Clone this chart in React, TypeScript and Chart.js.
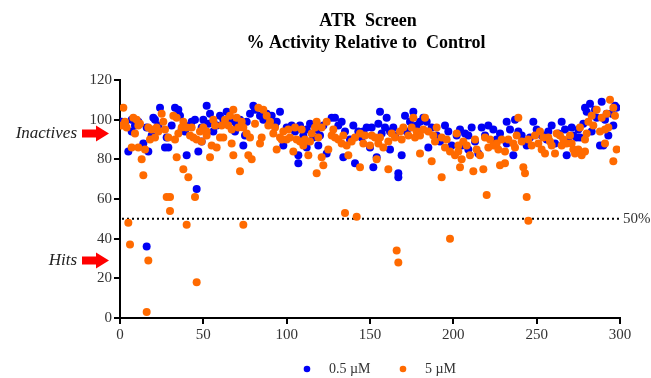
import { useEffect, useRef } from "react";
import { Chart, registerables } from "chart.js";

Chart.register(...registerables);

const titleLines = ["ATR  Screen", "% Activity Relative to  Control"];
const seriesLabels = ["0.5 µM", "5 µM"];
const xTicks = [0, 50, 100, 150, 200, 250, 300];
const yTicks = [0, 20, 40, 60, 80, 100, 120];
const thresholdValue = 50;
const thresholdLabel = "50%";
const markerTexts = ["Inactives", "Hits"];
const markerValues = [93, 29];

const blueX = [
  1, 3, 5, 7, 7, 9, 14, 16, 16, 17, 20, 21, 23, 24, 27, 28, 29, 33, 35, 36, 37, 39, 40, 42, 43, 46, 47, 49,
  49, 50, 52, 54, 56, 56, 60, 64, 66, 69, 72, 74, 75, 76, 80, 81, 84, 88, 91, 94, 96, 98, 100,
  103, 107, 107, 108, 112, 112, 114, 116, 119, 120, 124, 127, 129, 131, 134, 135, 140, 141, 143, 145, 148, 150, 151, 152,
  154, 155, 156, 159, 160, 162, 162, 165, 167, 167, 169, 171, 174, 176, 180, 182, 185, 187, 192, 197, 199, 202,
  204, 205, 209, 209, 213, 215, 217, 221, 224, 226, 232, 232, 234, 236, 237, 239, 241, 244, 248, 250, 253,
  254, 257, 259, 261, 265, 267, 268, 269, 271, 274, 275, 276, 279, 280, 282, 283, 285, 288, 289, 290, 292, 293, 295, 296, 297, 298,
  11, 19, 31, 45, 53, 58, 62, 70, 78, 86, 93, 105, 110, 118, 122, 133, 138, 146, 157, 164, 172, 178, 184, 190, 195,
  207, 211, 219, 228, 246, 256, 263, 272, 278, 286, 291,
];
const blueY = [
  99, 98, 84, 100, 94, 97, 88, 96, 36, 84, 101, 100, 97, 106, 86, 91, 86, 106, 105, 102, 95, 94, 82, 97, 99, 65, 84, 96,
  89, 100, 107, 103, 99, 94, 102, 104, 99, 94, 100, 87, 92, 99, 107, 105, 102, 103, 102, 99, 104, 87, 96,
  97, 82, 78, 97, 95, 86, 98, 91, 87, 92, 83, 101, 101, 97, 81, 94, 97, 78, 94, 91, 96, 86, 96, 76,
  81, 98, 104, 96, 101, 94, 85, 92, 73, 71, 82, 102, 99, 104, 99, 101, 86, 96, 89, 94, 87, 92,
  95, 87, 92, 85, 89, 83, 96, 97, 95, 90, 99, 88, 95, 82, 100, 94, 92, 87, 99, 95, 92,
  92, 94, 97, 88, 99, 95, 82, 89, 96, 91, 95, 91, 106, 104, 108, 94, 105, 87, 109, 87, 103, 92, 103, 97, 107, 106,
  99, 92, 97, 100, 98, 97, 100, 98, 103, 100, 97, 94, 92, 95, 97, 99, 90, 94, 93, 96, 94, 97, 99, 92, 97,
  93, 96, 92, 93, 91, 90, 93, 92, 98, 101, 100,
];

const orangeX = [
  1, 2, 4, 8, 10, 11, 7, 11, 15, 13, 14, 17, 19, 22, 21, 25, 26, 23, 29, 32, 34, 38, 37, 40, 42, 44, 33, 34, 38, 41, 46, 49,
  5, 6, 16, 17, 28, 30, 30, 40, 45, 46, 74, 135, 142, 166, 167, 198, 220, 244, 245,
  50, 52, 56, 63, 65, 68, 70, 71, 67, 74, 78, 83, 86, 88, 90, 93, 96, 100, 52, 55, 58, 60, 62, 67, 54, 68, 77, 79, 72, 85, 84, 94, 97,
  101, 105, 102, 104, 109, 110, 113, 115, 117, 118, 121, 124, 127, 129, 131, 133, 136, 139, 144, 147, 150, 121, 122, 118, 125, 137, 144, 111, 108,
  151, 153, 156, 154, 158, 161, 165, 168, 170, 173, 175, 176, 178, 180, 183, 185, 188, 190, 193, 195, 198, 201, 180, 187, 161, 193, 203,
  202, 203, 205, 204, 208, 210, 214, 216, 218, 212, 219, 222, 224, 226, 229, 231, 228, 231, 236, 238, 239, 241, 242, 243, 247, 249, 252, 254,
  253, 255, 257, 259, 261, 264, 265, 268, 270, 272, 273, 277, 279, 281, 283, 286, 289, 291, 293, 294, 296, 297, 288, 291, 298, 296, 262, 275, 279, 276,
  3, 9, 12, 18, 27, 35, 43, 48, 57, 61, 66, 73, 76, 81, 89, 92, 98, 106, 114, 119, 128, 134, 141, 146, 155,
  163, 169, 177, 182, 189, 196, 206, 213, 221, 227, 233, 237, 245, 251, 258, 266, 271, 280, 284, 292,
];
const orangeY = [
  97, 106, 96, 101, 100, 97, 86, 86, 85, 80, 72, 96, 95, 96, 91, 103, 99, 94, 91, 102, 101, 99, 96, 96, 92, 91, 90, 81, 75, 71, 90, 89,
  48, 37, 3, 29, 61, 61, 54, 47, 61, 18, 47, 53, 51, 34, 28, 40, 62, 61, 49,
  96, 94, 100, 100, 97, 105, 101, 96, 95, 96, 91, 106, 105, 102, 99, 96, 91, 90, 92, 87, 86, 91, 91, 88, 81, 82, 82, 80, 74, 91, 88, 85, 90,
  95, 96, 91, 84, 95, 87, 82, 93, 96, 99, 96, 99, 92, 91, 90, 88, 87, 89, 93, 92, 87, 81, 77, 73, 85, 82, 76, 90, 89,
  92, 91, 91, 80, 86, 89, 91, 94, 96, 92, 96, 101, 94, 92, 101, 94, 92, 96, 91, 86, 84, 82, 83, 79, 75, 71, 87,
  93, 84, 80, 76, 87, 82, 85, 82, 75, 74, 91, 90, 87, 88, 90, 84, 77, 78, 88, 92, 101, 89, 76, 73, 87, 92, 94, 91,
  85, 83, 91, 87, 83, 92, 87, 88, 92, 85, 83, 82, 90, 99, 102, 105, 101, 95, 96, 110, 106, 102, 94, 88, 85, 79, 93, 85, 84, 96,
  99, 93, 98, 90, 95, 93, 96, 94, 97, 97, 102, 99, 93, 98, 97, 93, 94, 90, 89, 91, 95, 92, 91, 88, 88,
  93, 90, 91, 95, 89, 90, 89, 90, 86, 85, 90, 86, 90, 88, 89, 90, 88, 93, 97, 103,
];

const BLUE = "#0000F5";
const ORANGE = "#FF6A00";
const SERIF = '"Liberation Serif", "Times New Roman", serif';

export default function App() {
  const ref = useRef<HTMLCanvasElement | null>(null);

  useEffect(() => {
    document.body.style.margin = "0";
    const canvas = ref.current;
    if (!canvas) return;

    const decor = {
      id: "decor",
      beforeDatasetsDraw(chart: any) {
        const { ctx, chartArea, scales } = chart;
        const y = scales.y.getPixelForValue(thresholdValue);
        ctx.save();
        ctx.strokeStyle = "#000";
        ctx.lineWidth = 2;
        ctx.setLineDash([2, 3]);
        ctx.beginPath();
        ctx.moveTo(chartArea.left + 2, y);
        ctx.lineTo(chartArea.right, y);
        ctx.stroke();
        ctx.restore();
      },
      afterDraw(chart: any) {
        const { ctx, chartArea, scales } = chart;
        ctx.save();
        ctx.fillStyle = "#000";
        ctx.textAlign = "center";
        ctx.textBaseline = "alphabetic";
        ctx.font = `bold 18px ${SERIF}`;
        ctx.fillText(titleLines[0], 368, 26);
        ctx.fillText(titleLines[1], 366, 48);
        const ty = scales.y.getPixelForValue(thresholdValue);
        ctx.font = `15px ${SERIF}`;
        ctx.fillStyle = "#333";
        ctx.textAlign = "left";
        ctx.textBaseline = "middle";
        ctx.fillText(thresholdLabel, chartArea.right + 3, ty);
        markerValues.forEach((v, i) => {
          const my = scales.y.getPixelForValue(v);
          ctx.font = `italic 17px ${SERIF}`;
          ctx.fillStyle = "#222";
          ctx.textAlign = "right";
          ctx.textBaseline = "middle";
          ctx.fillText(markerTexts[i], 77, my);
          ctx.fillStyle = "#FF0000";
          ctx.beginPath();
          ctx.moveTo(82, my - 4);
          ctx.lineTo(96, my - 4);
          ctx.lineTo(96, my - 8);
          ctx.lineTo(109, my);
          ctx.lineTo(96, my + 8);
          ctx.lineTo(96, my + 4);
          ctx.lineTo(82, my + 4);
          ctx.closePath();
          ctx.fill();
        });
        const ly = 369;
        const items = [
          { x: 307, color: BLUE, text: seriesLabels[0] },
          { x: 403, color: ORANGE, text: seriesLabels[1] },
        ];
        items.forEach((it) => {
          ctx.fillStyle = it.color;
          ctx.beginPath();
          ctx.arc(it.x, ly, 3.3, 0, Math.PI * 2);
          ctx.fill();
          ctx.fillStyle = "#333";
          ctx.font = `14px ${SERIF}`;
          ctx.textAlign = "left";
          ctx.textBaseline = "middle";
          ctx.fillText(it.text, it.x + 22, ly);
        });
        ctx.restore();
      },
    };

    const tickFont = { family: SERIF, size: 15 };

    const chart = new Chart(canvas, {
      type: "scatter",
      data: {
        datasets: [
          {
            label: seriesLabels[0],
            data: blueX.map((x, i) => ({ x, y: blueY[i] })),
            backgroundColor: BLUE,
            borderWidth: 0,
            pointRadius: 4,
            order: 1,
          },
          {
            label: seriesLabels[1],
            data: orangeX.map((x, i) => ({ x, y: orangeY[i] })),
            backgroundColor: ORANGE,
            borderWidth: 0,
            pointRadius: 4,
            order: 0,
          },
        ],
      },
      options: {
        animation: false,
        responsive: false,
        layout: { padding: { top: 80, right: 31, bottom: 0, left: 0 } },
        plugins: {
          legend: { display: false },
          tooltip: { enabled: false },
          title: { display: false },
        },
        scales: {
          x: {
            type: "linear",
            min: xTicks[0],
            max: xTicks[xTicks.length - 1],
            afterBuildTicks: (s: any) => {
              s.ticks = xTicks.map((v) => ({ value: v }));
            },
            afterFit: (s: any) => {
              s.height = 60;
            },
            ticks: { font: tickFont, color: "#333", padding: 2, maxRotation: 0 },
            grid: { drawOnChartArea: false, drawTicks: true, tickLength: 6, color: "#000", lineWidth: 2 },
            border: { display: true, color: "#000", width: 2 },
          },
          y: {
            type: "linear",
            min: yTicks[0],
            max: yTicks[yTicks.length - 1],
            afterBuildTicks: (s: any) => {
              s.ticks = yTicks.map((v) => ({ value: v }));
            },
            afterFit: (s: any) => {
              s.width = 120;
            },
            ticks: { font: tickFont, color: "#333", padding: 2 },
            grid: { drawOnChartArea: false, drawTicks: true, tickLength: 6, color: "#000", lineWidth: 2 },
            border: { display: true, color: "#000", width: 2 },
          },
        },
      },
      plugins: [decor],
    });

    return () => chart.destroy();
  }, []);

  return <canvas ref={ref} width={651} height={378} style={{ display: "block" }} />;
}
